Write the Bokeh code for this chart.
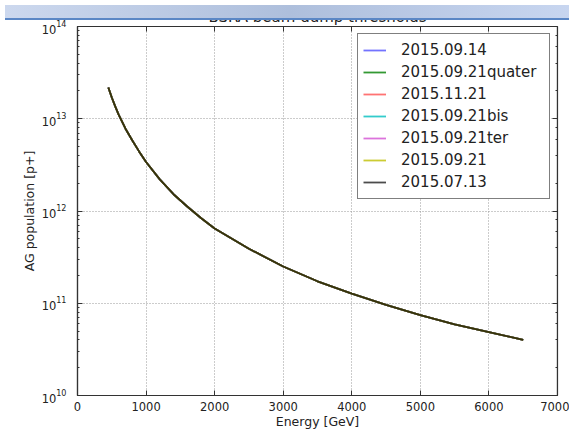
from bokeh.plotting import figure
from bokeh.models import (LogAxis, LinearAxis, Legend, LegendItem, Div,
                          ColumnDataSource, Range1d, FixedTicker, CustomJSTickFormatter)
from bokeh.layouts import column
from bokeh.embed import file_html
from bokeh.resources import INLINE

# ---- data ----
energy = [450, 500, 550, 600, 700, 800, 900, 1000, 1200, 1400, 1600, 1800, 2000,
          2500, 3000, 3500, 4000, 4500, 5000, 5500, 6000, 6500]
population = [2.18e13, 1.70e13, 1.36e13, 1.11e13, 7.8e12, 5.8e12, 4.4e12, 3.4e12,
              2.2e12, 1.52e12, 1.12e12, 8.4e11, 6.45e11, 3.9e11, 2.5e11, 1.73e11,
              1.27e11, 9.6e10, 7.45e10, 5.9e10, 4.85e10, 4.02e10]
series_labels = ["2015.09.14", "2015.09.21quater", "2015.11.21", "2015.09.21bis",
                 "2015.09.21ter", "2015.09.21", "2015.07.13"]
series_colors = ["#0000ff", "#008000", "#ff0000", "#00bfbf", "#bf00bf", "#bfbf00", "#000000"]
series_alpha = [0.55, 0.8, 0.55, 0.8, 0.55, 0.8, 0.7]
x_ticks = [0, 1000, 2000, 3000, 4000, 5000, 6000, 7000]
title_text = "BSRA beam dump thresholds"
x_label = "Energy [GeV]"
y_label = "AG population [p+]"

FONT = "DejaVu Sans"

p = figure(width=569, height=431, y_axis_type="log",
           x_range=Range1d(0, 7000), y_range=Range1d(1e10, 1e14),
           output_backend="svg", toolbar_location=None,
           min_border_left=77, min_border_right=12, min_border_top=26,
           min_border_bottom=33)
p.title.text = title_text
p.title.align = "center"
p.title.text_font = FONT
p.title.text_font_size = "15px"
p.title.text_font_style = "normal"
p.title.text_color = "#222222"
p.title.standoff = 2
p.background_fill_color = "white"
p.border_fill_color = "white"
p.outline_line_color = "#333333"
p.outline_line_width = 1.2

src = ColumnDataSource(dict(energy=energy, population=population))
renderers = []
for col, a in zip(series_colors, series_alpha):
    r = p.line("energy", "population", source=src, line_color=col,
               line_alpha=a, line_width=1.8, line_join="round")
    renderers.append(r)

blank = CustomJSTickFormatter(code="return '';")
top_axis = LinearAxis(formatter=blank, major_label_standoff=0, fixed_location=1e14)
right_axis = LogAxis(formatter=blank, major_label_standoff=0, fixed_location=7000)
p.add_layout(top_axis, "above")
p.add_layout(right_axis, "right")

for ax in p.xaxis:
    ax.ticker = FixedTicker(ticks=x_ticks)
for ax in p.xaxis + p.yaxis:
    ax.axis_line_color = "#333333"
    ax.axis_line_width = 1.2
    ax.major_tick_in = 5
    ax.major_tick_out = 0
    ax.minor_tick_in = 2
    ax.minor_tick_out = 0
    ax.major_tick_line_color = "#333333"
    ax.minor_tick_line_color = "#333333"
    ax.major_label_text_font = FONT
    ax.major_label_text_font_size = "11.5px"
    ax.major_label_text_color = "#222222"
    ax.axis_label_text_font = FONT
    ax.axis_label_text_font_size = "12.5px"
    ax.axis_label_text_font_style = "normal"
    ax.axis_label_text_color = "#222222"

bottom = p.below[0]
bottom.axis_label = x_label
bottom.major_label_standoff = 6
bottom.axis_label_standoff = 0
left = p.left[0]
left.axis_label = y_label
left.major_label_standoff = 11
left.axis_label_standoff = 2

p.xgrid.grid_line_color = "#999999"
p.xgrid.grid_line_dash = "1 2"
p.ygrid.grid_line_color = "#999999"
p.ygrid.grid_line_dash = "1 2"

legend = Legend(items=[LegendItem(label=lab, renderers=[r])
                       for lab, r in zip(series_labels, renderers)],
                location="top_right", label_text_font=FONT,
                label_text_font_size="15px", label_text_color="#222222",
                glyph_width=23, glyph_height=22, label_height=22,
                label_width=143, label_standoff=15, padding=5, spacing=0,
                margin=7, border_line_color="black", border_line_width=1,
                background_fill_color="white", background_fill_alpha=1)
p.add_layout(legend)

bar = Div(text="", width=569, height=15,
          styles={"position": "absolute", "top": "0px", "left": "0px",
                  "z-index": "10",
                  "background": "linear-gradient(to right, #ccd8ee 0%, #aebfdc 50%, #c8d6f0 100%)",
                  "border-bottom": "2px solid #5b87c5",
                  "box-sizing": "border-box"})

layout = column(p, bar, spacing=0)
open("out.html", "w").write(file_html(layout, INLINE))
